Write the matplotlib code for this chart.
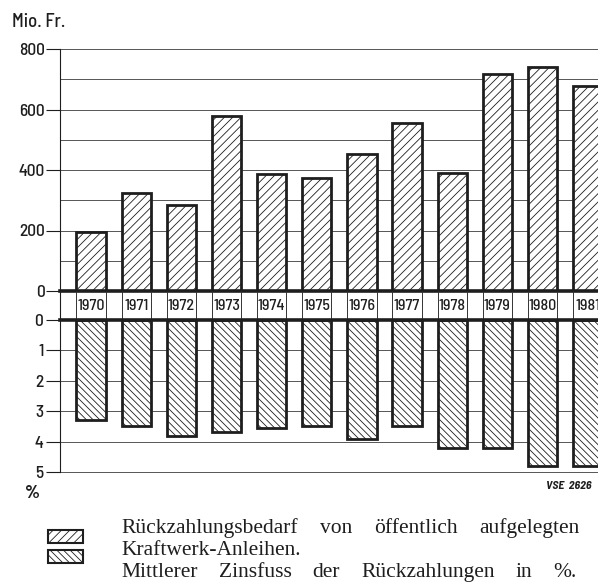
import matplotlib
matplotlib.use("Agg")
import matplotlib.pyplot as plt
from matplotlib.patches import Rectangle
import numpy as np

# ---------------- data ----------------
years = [1970, 1971, 1972, 1973, 1974, 1975, 1976, 1977, 1978, 1979, 1980, 1981]
repayment = [195, 324, 284, 578, 387, 373, 453, 555, 390, 717, 740, 678]      # Mio. Fr.
interest = [3.3, 3.5, 3.8, 3.7, 3.55, 3.5, 3.9, 3.5, 4.2, 4.2, 4.8, 4.8]      # %
top_ticks = [0, 200, 400, 600, 800]
top_grid = [100, 200, 300, 400, 500, 600, 700, 800]
bottom_ticks = [0, 1, 2, 3, 4, 5]
year_labels = [str(y) for y in years]
legend_lines = [
    "Rückzahlungsbedarf von öffentlich aufgelegten",
    "Kraftwerk-Anleihen.",
    "Mittlerer Zinsfuss der Rückzahlungen in %.",
]

# ---------------- style ----------------
plt.rcParams["hatch.linewidth"] = 0.6
plt.rcParams["hatch.color"] = "#333333"
semi = ["Barlow Semi Condensed", "DejaVu Sans"]
serif = ["Liberation Serif", "DejaVu Serif"]
INK = "#1e1e1e"
GRID = "#555555"

W, H = 598, 582
fig = plt.figure(figsize=(W / 100, H / 100), dpi=100)


def rect(l, t, r, b):
    return [l / W, 1 - b / H, (r - l) / W, (b - t) / H]


ax_top = fig.add_axes(rect(60, 49, 598, 291))
ax_band = fig.add_axes(rect(60, 291, 598, 320))
ax_bot = fig.add_axes(rect(60, 320, 598, 472))

x = np.arange(len(years))
bw = 0.65
xlim = (-0.69, 11.23)

for ax in (ax_top, ax_band, ax_bot):
    ax.set_xlim(*xlim)
    ax.set_xticks([])
    for s in ("top", "right", "bottom"):
        ax.spines[s].set_visible(False)
    ax.spines["left"].set_linewidth(0.8)
    ax.spines["left"].set_color(INK)
    ax.set_facecolor("none")

# ---- top panel ----
ax_top.set_ylim(0, 800)
ax_top.set_yticks(top_ticks)
ax_top.set_yticklabels([str(t) for t in top_ticks], family=semi, fontsize=12.5,
                       fontweight="medium", color=INK)
for g in top_grid:
    ax_top.axhline(g, color=GRID, lw=0.7, zorder=0)
ax_top.bar(x, repayment, width=bw, facecolor="white", edgecolor=INK,
           linewidth=2, hatch="////", zorder=2)
ax_top.axhline(0, color=INK, lw=2.6, zorder=3, clip_on=False)
ax_top.tick_params(axis="y", length=10, width=0.8, color=INK, pad=1)

# ---- band with years ----
ax_band.set_ylim(0, 1)
ax_band.set_yticks([])
ax_band.vlines(np.concatenate([x - bw / 2, x + bw / 2]), 0, 1, color="#333333", lw=0.7)
for xi, lab in zip(x, year_labels):
    ax_band.text(xi, 0.47, lab, ha="center", va="center", family=semi,
                 fontsize=11.5, fontweight="medium", color=INK, clip_on=True)

# ---- bottom panel ----
ax_bot.set_ylim(5, 0)
ax_bot.set_yticks(bottom_ticks)
ax_bot.set_yticklabels([str(t) for t in bottom_ticks], family=semi, fontsize=12.5,
                       fontweight="medium", color=INK)
for g in bottom_ticks[1:]:
    ax_bot.axhline(g, color=GRID, lw=0.7, zorder=0, clip_on=False)
ax_bot.bar(x, interest, width=bw, facecolor="white", edgecolor=INK,
           linewidth=2, hatch="\\\\\\\\\\", zorder=2)
ax_bot.axhline(0, color=INK, lw=2.6, zorder=3, clip_on=False)
ax_bot.tick_params(axis="y", length=10, width=0.8, color=INK, pad=2)

# ---- annotations ----
fig.text(12 / W, 1 - 22 / H, "Mio. Fr.", family=semi, fontsize=13.5,
         fontweight="medium", color=INK, va="center", ha="left")
fig.text(25 / W, 1 - 493 / H, "%", family=semi, fontsize=13.5,
         fontweight="bold", color=INK, va="center", ha="left")
fig.text(592 / W, 1 - 486 / H, "VSE  2626", family=semi, fontsize=8.5,
         fontweight="bold", style="italic", color=INK, va="center", ha="right")

# ---- legend ----
fig.add_artist(Rectangle((48 / W, 1 - 543 / H), 35 / W, 13 / H, transform=fig.transFigure,
                         facecolor="white", edgecolor=INK, lw=1.5, hatch="////"))
fig.add_artist(Rectangle((48 / W, 1 - 563 / H), 35 / W, 13 / H, transform=fig.transFigure,
                         facecolor="white", edgecolor=INK, lw=1.5, hatch="\\\\\\\\\\"))

renderer = fig.canvas.get_renderer()
LFS = 15.5


def legend_line(line, x0, x1, y, justify=True):
    if not justify:
        fig.text(x0 / W, 1 - y / H, line, family=serif, fontsize=LFS, color=INK,
                 va="baseline", ha="left")
        return
    words = line.split(" ")
    texts = [fig.text(0, 1 - y / H, w, family=serif, fontsize=LFS, color=INK,
                      va="baseline", ha="left") for w in words]
    widths = [t.get_window_extent(renderer).width for t in texts]
    gap = (x1 - x0 - sum(widths)) / max(len(words) - 1, 1)
    cx = x0
    for t, w in zip(texts, widths):
        t.set_x(cx / W)
        cx += w + gap


legend_line(legend_lines[0], 121, 580, 533)
legend_line(legend_lines[1], 121, 580, 555, justify=False)
legend_line(legend_lines[2], 121, 577, 577)

fig.savefig("out.png", dpi=100)
